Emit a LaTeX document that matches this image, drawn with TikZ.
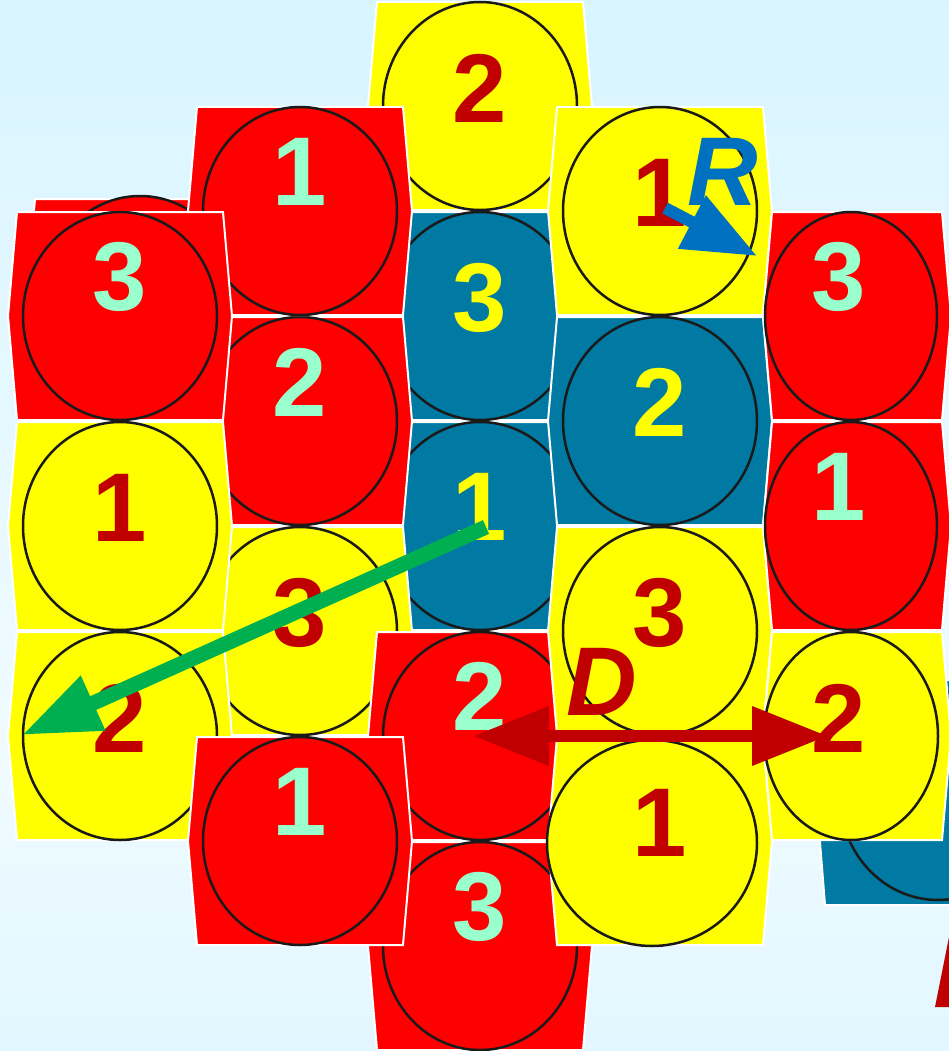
\documentclass[tikz,border=0pt]{standalone}
\usepackage{fontspec}
\setmainfont{Liberation Sans}
\usetikzlibrary{arrows.meta}

\definecolor{hred}{RGB}{255,0,0}
\definecolor{hyellow}{RGB}{255,255,0}
\definecolor{hblue}{RGB}{0,122,163}
\definecolor{mint}{RGB}{153,255,204}
\definecolor{darkred}{RGB}{192,0,0}
\definecolor{rblue}{RGB}{0,112,192}
\definecolor{dgreen}{RGB}{0,176,80}
\definecolor{ringblack}{RGB}{26,26,26}
\definecolor{bgblue}{RGB}{200,240,255}
\definecolor{bgpale}{RGB}{240,251,255}

\pgfdeclareverticalshading{skyfade}{100bp}{color(0bp)=(bgblue); color(39bp)=(bgpale); color(100bp)=(bgblue)}

\tikzset{
    cellframe/.style={draw=white,line width=0.04cm},
    ring/.style={draw=ringblack,line width=0.05cm},
    num/.style={font=\fontsize{55.6}{60}\selectfont\bfseries,inner sep=0pt},
    varname/.style={font=\fontsize{55.6}{60}\selectfont\bfseries\itshape,inner sep=0pt},
    fatarrow/.style={-{Triangle[length=1.52cm,width=1.13cm]}}
}

\begin{document}
\begin{tikzpicture}[x=0.02cm,y=-0.02cm]
    \useasboundingbox (0,0) rectangle (949,1051);
    \clip (0,0) rectangle (949,1051);
    \fill[shading=skyfade] (0,0) rectangle (949,1051);

    % hidden cell behind the left column
    \filldraw[cellframe,fill=hred] (35,199) -- (241,199) -- (250,303) -- (241,407)
        -- (35,407) -- (26,303) -- cycle;
    \draw[ring,fill=hred] (140,300) ellipse [x radius=97,y radius=104];

    % back cells (middle column and its left neighbours)
    \foreach \nm/\cx/\cy/\col/\txt/\tcol/\dy in {
        cTop/480/106/hyellow/2/darkred/-18, cThree/480/316/hblue/3/hyellow/-18,
        cOne/480/526/hblue/1/hyellow/-19, bTwo/300/421/hred/2/mint/-39,
        bThree/300/631/hyellow/3/darkred/-18, cTwo/480/736/hred/2/mint/-40,
        cLow/480/946/hred/3/mint/-39} {
        \filldraw[cellframe,fill=\col] (\cx-103,\cy-104) -- (\cx+103,\cy-104) -- (\cx+112,\cy)
            -- (\cx+103,\cy+104) -- (\cx-103,\cy+104) -- (\cx-112,\cy) -- cycle;
        \draw[ring,fill=\col] (\cx,\cy) ellipse [x radius=97,y radius=104];
        \node[num,text=\tcol] (\nm) at (\cx,\cy+\dy) {\txt};
    }

    % front cells
    \foreach \nm/\cx/\cy/\col/\txt/\tcol/\dy in {
        bOne/300/211/hred/1/mint/-39, aThree/120/316/hred/3/mint/-39,
        aOne/120/526/hyellow/1/darkred/-18, aTwo/120/736/hyellow/2/darkred/-18,
        bLow/300/841/hred/1/mint/-39, dOne/660/211/hyellow/1/darkred/-18,
        dTwo/660/421/hblue/2/hyellow/-19, dThree/660/631/hyellow/3/darkred/-18} {
        \filldraw[cellframe,fill=\col] (\cx-103,\cy-104) -- (\cx+103,\cy-104) -- (\cx+112,\cy)
            -- (\cx+103,\cy+104) -- (\cx-103,\cy+104) -- (\cx-112,\cy) -- cycle;
        \draw[ring,fill=\col] (\cx,\cy) ellipse [x radius=97,y radius=104];
        \node[num,text=\tcol] (\nm) at (\cx,\cy+\dy) {\txt};
    }
    \filldraw[cellframe,fill=hyellow] (557,737) -- (763,737) -- (772,841) -- (763,945)
        -- (557,945) -- (548,841) -- cycle;
    \draw[ring,fill=hyellow] (652,843) ellipse [x radius=105,y radius=103];
    \node[num,text=darkred] (dLow) at (660,823) {1};

    % right column (narrower)
    \foreach \nm/\cy/\col/\txt/\tcol/\dy in {
        eThree/316/hred/3/mint/-39, eOne/526/hred/1/mint/-39} {
        \filldraw[cellframe,fill=\col] (772,\cy-104) -- (942,\cy-104) -- (951,\cy)
            -- (942,\cy+104) -- (772,\cy+104) -- (763,\cy) -- cycle;
        \draw[ring,fill=\col] (851,\cy) ellipse [x radius=86,y radius=104];
        \node[num,text=\tcol] (\nm) at (839,\cy+\dy) {\txt};
    }
    \filldraw[cellframe,fill=hblue] (825,680) -- (1031,680) -- (1040,792) -- (1031,905)
        -- (825,905) -- (816,792) -- cycle;
    \draw[ring,fill=hblue] (938,796) ellipse [x radius=98,y radius=104];
    \filldraw[cellframe,fill=hyellow] (772,632) -- (942,632) -- (951,736) -- (942,840)
        -- (772,840) -- (763,736) -- cycle;
    \draw[ring,fill=hyellow] (851,736) ellipse [x radius=87,y radius=104];
    \node[num,text=darkred] (eTwo) at (839,718) {2};
    \fill[darkred] (935,1007) -- (949,1007) -- (949,937) -- cycle;

    % arrows
    \coordinate (gTail) at (486,527);
    \coordinate (gTip) at (22,735);
    \draw[dgreen,line width=0.3cm,-{Triangle[length=1.56cm,width=1.12cm]}] (gTail) -- (gTip);

    \coordinate (dLeft) at (473,736);
    \coordinate (dRight) at (828,736);
    \draw[darkred,line width=0.24cm,{Triangle[length=1.52cm,width=1.13cm]}-{Triangle[length=1.52cm,width=1.13cm]}] (dLeft) -- (dRight);
    \node[varname,text=darkred] (dName) at (602,682) {D};

    \coordinate (rTail) at (665,208);
    \coordinate (rTip) at (757,256);
    \draw[rblue,line width=0.24cm,-{Triangle[length=1.47cm,width=1.14cm]}] (rTail) -- (rTip);
    \node[varname,text=rblue] (rName) at (723,172) {R};
\end{tikzpicture}
\end{document}
